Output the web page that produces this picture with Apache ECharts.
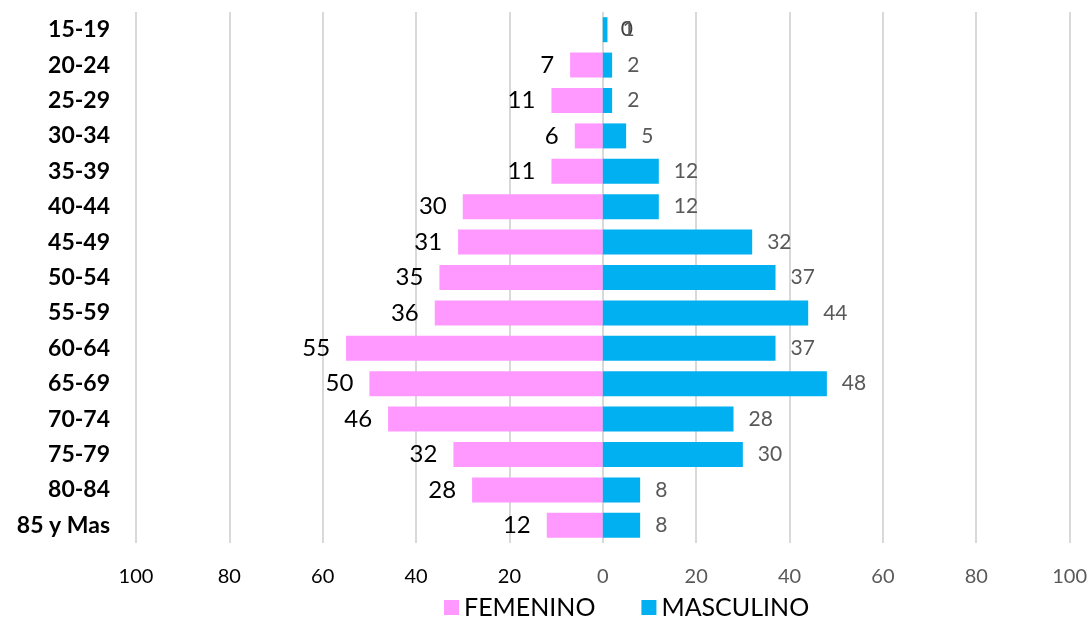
<!DOCTYPE html>
<html>
<head>
<meta charset="utf-8">
<script src="https://cdn.jsdelivr.net/npm/echarts@6/dist/echarts.min.js"></script>
<style>
  html, body { margin: 0; padding: 0; background: #fff; }
  #chart { width: 1090px; height: 620px; }
</style>
</head>
<body>
<div id="chart"></div>
<script>
const ageGroups = ['15-19', '20-24', '25-29', '30-34', '35-39', '40-44', '45-49', '50-54',
  '55-59', '60-64', '65-69', '70-74', '75-79', '80-84', '85 y Mas'];
const femenino = [0, 7, 11, 6, 11, 30, 31, 35, 36, 55, 50, 46, 32, 28, 12];
const masculino = [1, 2, 2, 5, 12, 12, 32, 37, 44, 37, 48, 28, 30, 8, 8];

const FONT = 'Lato, "Liberation Sans", sans-serif';
const PINK = '#FF99FF';
const BLUE = '#00B0F0';

const chart = echarts.init(document.getElementById('chart'));

const option = {
  animation: false,
  textStyle: { fontFamily: FONT },
  grid: { left: 136, right: 20, top: 12, bottom: 77 },
  legend: {
    bottom: -5,
    left: 439,
    icon: 'rect',
    itemWidth: 15,
    itemHeight: 15,
    itemGap: 46,
    textStyle: { fontSize: 25, color: '#000', fontFamily: FONT },
    data: ['FEMENINO', 'MASCULINO']
  },
  xAxis: {
    type: 'value',
    min: -100,
    max: 100,
    interval: 20,
    axisLine: { show: false },
    axisTick: { show: false },
    splitLine: { lineStyle: { color: '#D9D9D9', width: 2 } },
    axisLabel: {
      margin: 24,
      fontSize: 20,
      color: (v) => (v < 0 ? '#000' : '#595959'),
      formatter: (v) => Math.abs(v)
    }
  },
  yAxis: {
    type: 'category',
    data: ageGroups,
    inverse: true,
    axisLine: { show: false },
    axisTick: { show: false },
    axisLabel: { margin: 26, fontSize: 23, fontWeight: 'bold', color: '#000' }
  },
  series: [
    {
      name: 'FEMENINO',
      type: 'bar',
      barWidth: 25,
      barGap: '-100%',
      itemStyle: { color: PINK },
      data: femenino.map((v) => {
        if (v === 0) {
          return { value: 0, label: { position: 'right', distance: 18, fontSize: 21, color: '#404040' } };
        }
        return -v;
      }),
      label: {
        show: true,
        position: 'left',
        distance: 16,
        fontSize: 24,
        color: '#000',
        formatter: (p) => Math.abs(p.value)
      }
    },
    {
      name: 'MASCULINO',
      type: 'bar',
      barWidth: 25,
      barGap: '-100%',
      itemStyle: { color: BLUE },
      data: masculino,
      label: {
        show: true,
        position: 'right',
        distance: 15,
        fontSize: 21,
        color: '#595959'
      }
    }
  ]
};

chart.setOption(option);
</script>
</body>
</html>
